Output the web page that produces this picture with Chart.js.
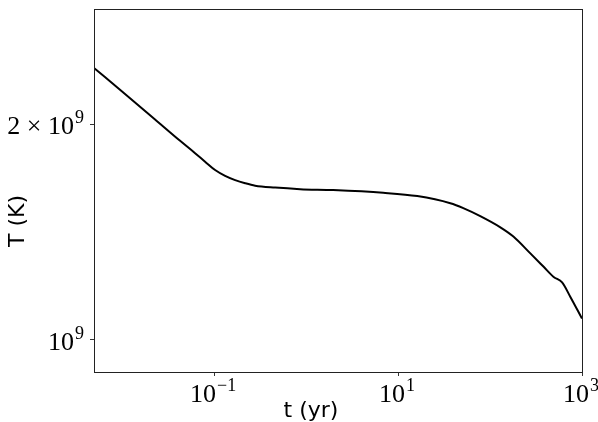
<!DOCTYPE html>
<html>
<head>
<meta charset="utf-8">
<script src="https://cdn.jsdelivr.net/npm/chart.js@4"></script>
<style>
  body { margin: 0; background: #fff; }
  #wrap { width: 598px; height: 422px; }
</style>
</head>
<body>
<div id="wrap"><canvas id="tempChart"></canvas></div>
<script>
// cooling curve
const tYears = [0.00494, 0.01075, 0.0228, 0.0427, 0.0621, 0.0798, 0.1025, 0.1317, 0.1693, 0.2175,
  0.2793, 0.461, 0.861, 1.97, 6.9, 16.2, 37.0, 51.2, 78.3, 129.5, 180.7, 274.5, 383, 492, 607.5,
  747.8, 1000];
const tempK = [2.397e9, 2.205e9, 2.031e9, 1.896e9, 1.822e9, 1.773e9, 1.726e9, 1.694e9, 1.671e9, 1.654e9,
  1.641e9, 1.631e9, 1.623e9, 1.618e9, 1.604e9, 1.587e9, 1.551e9, 1.527e9, 1.488e9, 1.4355e9,
  1.3925e9, 1.3197e9, 1.264e9, 1.2236e9, 1.2019e9, 1.1472e9, 1.070e9];

// tick values and labels as [base, exponent]
const xTickVals = [0.1, 10, 1000];
const xTickLabels = [['10', '\u22121'], ['10', '1'], ['10', '3']];
const yTickVals = [1e9, 2e9];
const yTickLabels = [['10', '9'], ['2 \u00D7 10', '9']];

const xTitle = 't (yr)';
const yTitle = 'T (K)';

const baseFont = '26px "Liberation Serif"';
const expFont = '18px "Liberation Serif"';

function labelWidth(ctx, lab) {
  ctx.font = baseFont;
  const w1 = ctx.measureText(lab[0]).width;
  ctx.font = expFont;
  return w1 + 1 + ctx.measureText(lab[1]).width;
}

function drawLabel(ctx, lab, left, baseline) {
  ctx.font = baseFont;
  ctx.fillText(lab[0], left, baseline);
  const w1 = ctx.measureText(lab[0]).width;
  ctx.font = expFont;
  ctx.fillText(lab[1], left + w1 + 1, baseline - 11);
}

// box around the plot, math-style tick labels, axis titles
const framePlugin = {
  id: 'frame',
  afterDraw(chart) {
    const { ctx, chartArea: a, scales } = chart;
    ctx.save();
    ctx.strokeStyle = '#222';
    ctx.lineWidth = 1;
    ctx.strokeRect(Math.round(a.left) + 0.5, Math.round(a.top) + 0.5,
      Math.round(a.right - a.left), Math.round(a.bottom - a.top));

    ctx.fillStyle = '#000';
    ctx.textAlign = 'left';
    ctx.textBaseline = 'alphabetic';
    xTickVals.forEach((v, i) => {
      const px = scales.x.getPixelForValue(v);
      const w = labelWidth(ctx, xTickLabels[i]);
      drawLabel(ctx, xTickLabels[i], px - w / 2 - 1, a.bottom + 30);
    });
    yTickVals.forEach((v, i) => {
      const py = scales.y.getPixelForValue(v);
      const w = labelWidth(ctx, yTickLabels[i]);
      drawLabel(ctx, yTickLabels[i], a.left - 10 - w, py + 10);
    });

    ctx.font = '22px "DejaVu Sans"';
    ctx.textAlign = 'center';
    ctx.fillText(xTitle, 311, 417);
    ctx.translate(23.5, 221);
    ctx.rotate(-Math.PI / 2);
    ctx.fillText(yTitle, 0, 0);
    ctx.restore();
  }
};

const ctx = document.getElementById('tempChart').getContext('2d');
new Chart(ctx, {
  type: 'line',
  data: {
    datasets: [{
      data: tYears.map((t, i) => ({ x: t, y: tempK[i] })),
      borderColor: '#000',
      borderWidth: 2,
      pointRadius: 0,
      fill: false,
      cubicInterpolationMode: 'monotone'
    }]
  },
  options: {
    responsive: true,
    maintainAspectRatio: false,
    devicePixelRatio: 1,
    animation: false,
    layout: { padding: { top: 9, right: 16, left: 0, bottom: 0 } },
    plugins: { legend: { display: false }, tooltip: { enabled: false } },
    scales: {
      x: {
        type: 'logarithmic',
        min: 4.944e-3,
        max: 1000,
        afterBuildTicks: axis => { axis.ticks = xTickVals.map(v => ({ value: v })); },
        afterFit: axis => {
          axis.height = 50;
          axis.paddingLeft = 0; axis.paddingRight = 0;
        },
        ticks: { display: false },
        grid: { drawOnChartArea: false, drawTicks: true, tickLength: 4, color: '#333' },
        border: { display: false }
      },
      y: {
        type: 'logarithmic',
        min: 9.01e8,
        max: 2.898e9,
        afterBuildTicks: axis => { axis.ticks = yTickVals.map(v => ({ value: v })); },
        afterFit: axis => {
          axis.width = 94;
          axis.paddingTop = 0; axis.paddingBottom = 0;
        },
        ticks: { display: false },
        grid: { drawOnChartArea: false, drawTicks: true, tickLength: 4, color: '#333' },
        border: { display: false }
      }
    }
  },
  plugins: [framePlugin]
});
</script>
</body>
</html>
